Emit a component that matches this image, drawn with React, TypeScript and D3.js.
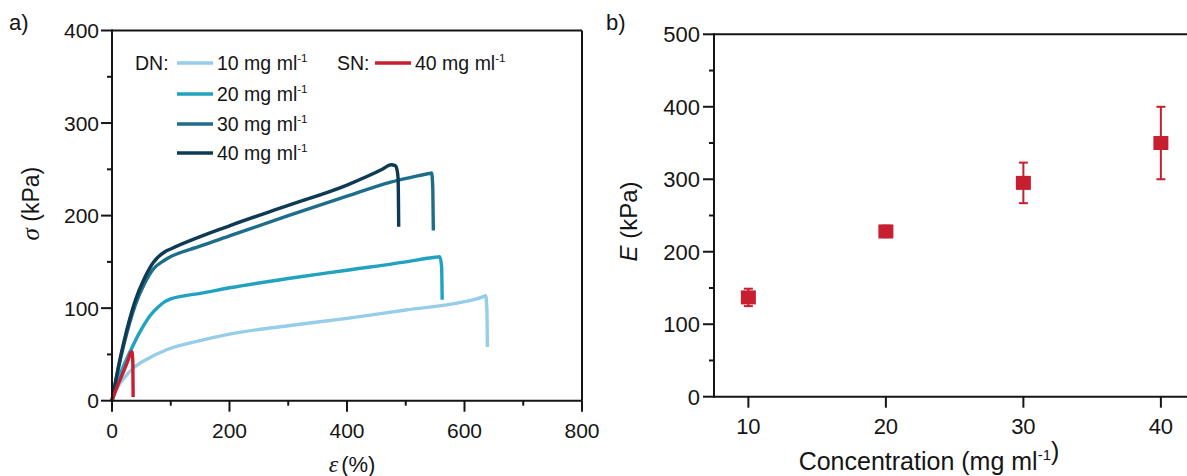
import React from "react";
import * as d3 from "d3";

// ---------- data ----------
// Panel a: stress (kPa) vs strain (%)
const dn10: [number, number][] = [
  [0, 0], [5, 9], [10, 15], [20, 24], [36, 35], [60, 45], [93, 55], [150, 65],
  [200, 72], [300, 81], [400, 89], [500, 98], [600, 107], [630, 112], [636, 113.5],
  [638, 100], [639, 58],
];
const dn20: [number, number][] = [
  [0, 0], [10, 22], [20, 38], [36, 60], [50, 77], [65, 92], [80, 102], [90, 107],
  [100, 110], [120, 113], [150, 116], [200, 122], [300, 132], [400, 141], [500, 150],
  [550, 155], [558, 155.5], [561, 145], [562, 109],
];
const dn30: [number, number][] = [
  [0, 0], [10, 32], [20, 60], [30, 84], [40, 104], [55, 126], [70, 142], [90, 152],
  [150, 167], [200, 178], [300, 200], [400, 221], [473, 236], [520, 243],
  [540, 245.5], [544, 246], [546, 230], [547, 184],
];
const dn40: [number, number][] = [
  [0, 0], [10, 34], [20, 63], [30, 88], [40, 109], [55, 132], [70, 149], [90, 161],
  [100, 164], [200, 189], [300, 211], [400, 233], [460, 250], [475, 255],
  [482, 254], [485, 250], [487, 240], [488, 188],
];
const sn40: [number, number][] = [
  [0, 0], [10, 17], [20, 32], [28, 45], [32, 52], [34, 53], [35.5, 40], [36, 4],
];

const xTicksA = [0, 200, 400, 600, 800];
const xMinorA = [100, 300, 500, 700];
const yTicksA = [0, 100, 200, 300, 400];
const yMinorA = [50, 150, 250, 350];

// Panel b: modulus vs concentration
const concentrations = [10, 20, 30, 40];
const modulus = [137, 228, 295, 350];
const modulusErr = [12, 8, 28, 50];

const xTicksB = [10, 20, 30, 40];
const yTicksB = [0, 100, 200, 300, 400, 500];
const yMinorB = [50, 150, 250, 350, 450];

const legendDN = ["10", "20", "30", "40"];

// ---------- styles ----------
const C10 = "#96cde8";
const C20 = "#22a2c1";
const C30 = "#1e6e8a";
const C40 = "#0e3a53";
const CRED = "#c81f30";
const FONT = "'Liberation Sans', Arial, sans-serif";
const INK = "#151515";

export default function App() {
  const W = 1187, H = 476;

  const xa = d3.scaleLinear().domain([0, 800]).range([112, 582]);
  const ya = d3.scaleLinear().domain([0, 400]).range([400.7, 30.5]);

  const xb = d3.scaleLinear().domain([7.5, 42.5]).range([714, 1195.25]);
  const yb = d3.scaleLinear().domain([0, 500]).range([396.7, 34.3]);

  const lineA = d3
    .line<[number, number]>()
    .x((d) => xa(d[0]))
    .y((d) => ya(d[1]))
    .curve(d3.curveMonotoneX);

  const curves: { data: [number, number][]; color: string }[] = [
    { data: dn10, color: C10 },
    { data: dn20, color: C20 },
    { data: dn30, color: C30 },
    { data: dn40, color: C40 },
    { data: sn40, color: CRED },
  ];

  const legendColors = [C10, C20, C30, C40];
  const legendRows = [63, 94, 124, 153];

  const axisStroke = { stroke: INK, strokeWidth: 2 };

  const sup = (base: string, dy = -8) => (
    <>
      {base}
      <tspan dy={dy} fontSize="0.6em">-1</tspan>
    </>
  );

  return (
    <svg
      width={W}
      height={H}
      style={{ position: "absolute", left: 0, top: 0, background: "#fff" }}
      fontFamily={FONT}
    >
      <rect x={0} y={0} width={W} height={H} fill="#fff" />

      {/* ---------------- Panel a ---------------- */}
      <text x={9} y={30} fontSize={22} fill={INK}>a)</text>

      {curves.map((c, i) => (
        <path
          key={i}
          d={lineA(c.data) || ""}
          fill="none"
          stroke={c.color}
          strokeWidth={3.4}
          strokeLinejoin="round"
          strokeLinecap="butt"
        />
      ))}

      {/* frame */}
      <line x1={xa(0)} x2={xa(800)} y1={ya(400)} y2={ya(400)} {...axisStroke} />
      <line x1={xa(800)} x2={xa(800)} y1={ya(400)} y2={ya(0)} {...axisStroke} />
      <line x1={xa(0)} x2={xa(800)} y1={ya(0)} y2={ya(0)} {...axisStroke} />
      <line x1={xa(0)} x2={xa(0)} y1={ya(400) - 1} y2={ya(0)} {...axisStroke} />

      {yTicksA.map((t) => (
        <g key={"ya" + t}>
          <line x1={xa(0) - 11} x2={xa(0)} y1={ya(t)} y2={ya(t)} {...axisStroke} />
          <text x={xa(0) - 13} y={ya(t)} dy="0.36em" textAnchor="end" fontSize={21} fill={INK}>
            {t}
          </text>
        </g>
      ))}
      {yMinorA.map((t) => (
        <line key={"yma" + t} x1={xa(0) - 5} x2={xa(0)} y1={ya(t)} y2={ya(t)} {...axisStroke} />
      ))}
      {xTicksA.map((t) => (
        <g key={"xa" + t}>
          <line x1={xa(t)} x2={xa(t)} y1={ya(0)} y2={ya(0) + 11} {...axisStroke} />
          <text x={xa(t)} y={ya(0) + 37} textAnchor="middle" fontSize={21} fill={INK}>
            {t}
          </text>
        </g>
      ))}
      {xMinorA.map((t) => (
        <line key={"xma" + t} x1={xa(t)} x2={xa(t)} y1={ya(0)} y2={ya(0) + 5} {...axisStroke} />
      ))}

      {/* axis titles */}
      <text
        transform={`translate(39,${(ya(0) + ya(400)) / 2 - 12}) rotate(-90)`}
        textAnchor="middle"
        fontSize={23}
        fill={INK}
      >
        <tspan fontFamily="'Liberation Serif', serif" fontStyle="italic" fontSize={25}>σ</tspan>
        <tspan> (kPa)</tspan>
      </text>
      <text x={(xa(0) + xa(800)) / 2 + 5} y={472} textAnchor="middle" fontSize={22} fill={INK}>
        <tspan fontFamily="'Liberation Serif', serif" fontStyle="italic" fontSize={24}>ε</tspan>
        <tspan dx={3}>(%)</tspan>
      </text>

      {/* legend */}
      <text x={135} y={legendRows[0]} dy="0.36em" fontSize={19.5} fill={INK}>DN:</text>
      {legendDN.map((v, i) => (
        <g key={"lg" + v}>
          <line x1={177} x2={213} y1={legendRows[i]} y2={legendRows[i]} stroke={legendColors[i]} strokeWidth={3.6} />
          <text x={217} y={legendRows[i]} dy="0.36em" fontSize={19.5} fill={INK}>
            {v} mg {sup("ml")}
          </text>
        </g>
      ))}
      <text x={337} y={legendRows[0]} dy="0.36em" fontSize={19.5} fill={INK}>SN:</text>
      <line x1={375} x2={411} y1={legendRows[0]} y2={legendRows[0]} stroke={CRED} strokeWidth={3.6} />
      <text x={415} y={legendRows[0]} dy="0.36em" fontSize={19.5} fill={INK}>
        40 mg {sup("ml")}
      </text>

      {/* ---------------- Panel b ---------------- */}
      <text x={606} y={30} fontSize={22} fill={INK}>b)</text>

      <line x1={xb(7.5)} x2={W} y1={yb(500)} y2={yb(500)} {...axisStroke} />
      <line x1={xb(7.5)} x2={W} y1={yb(0)} y2={yb(0)} {...axisStroke} />
      <line x1={xb(7.5)} x2={xb(7.5)} y1={yb(500) - 1} y2={yb(0) + 1} {...axisStroke} />

      {yTicksB.map((t) => (
        <g key={"yb" + t}>
          <line x1={xb(7.5) - 11} x2={xb(7.5)} y1={yb(t)} y2={yb(t)} {...axisStroke} />
          <text x={xb(7.5) - 14} y={yb(t)} dy="0.36em" textAnchor="end" fontSize={22} fill={INK}>
            {t}
          </text>
        </g>
      ))}
      {yMinorB.map((t) => (
        <line key={"ymb" + t} x1={xb(7.5) - 5} x2={xb(7.5)} y1={yb(t)} y2={yb(t)} {...axisStroke} />
      ))}
      {xTicksB.map((t) => (
        <g key={"xb" + t}>
          <line x1={xb(t)} x2={xb(t)} y1={yb(0)} y2={yb(0) + 11} {...axisStroke} />
          <text x={xb(t)} y={yb(0) + 37} textAnchor="middle" fontSize={22} fill={INK}>
            {t}
          </text>
        </g>
      ))}

      <text
        transform={`translate(637,${(yb(0) + yb(500)) / 2 + 6}) rotate(-90)`}
        textAnchor="middle"
        fontSize={24}
        fill={INK}
      >
        <tspan fontStyle="italic">E</tspan>
        <tspan> (kPa)</tspan>
      </text>
      <text x={929} y={470} textAnchor="middle" fontSize={25} fill={INK}>
        Concentration (mg {sup("ml", -10)})
      </text>

      {concentrations.map((c, i) => {
        const cx = xb(c);
        const top = yb(modulus[i] + modulusErr[i]);
        const bot = yb(modulus[i] - modulusErr[i]);
        return (
          <g key={"pt" + c}>
            <line x1={cx} x2={cx} y1={top} y2={bot} stroke={CRED} strokeWidth={2} />
            <line x1={cx - 4.5} x2={cx + 4.5} y1={top} y2={top} stroke={CRED} strokeWidth={2} />
            <line x1={cx - 4.5} x2={cx + 4.5} y1={bot} y2={bot} stroke={CRED} strokeWidth={2} />
            <rect x={cx - 7.5} y={yb(modulus[i]) - 7} width={15} height={14} fill={CRED} />
          </g>
        );
      })}
    </svg>
  );
}
